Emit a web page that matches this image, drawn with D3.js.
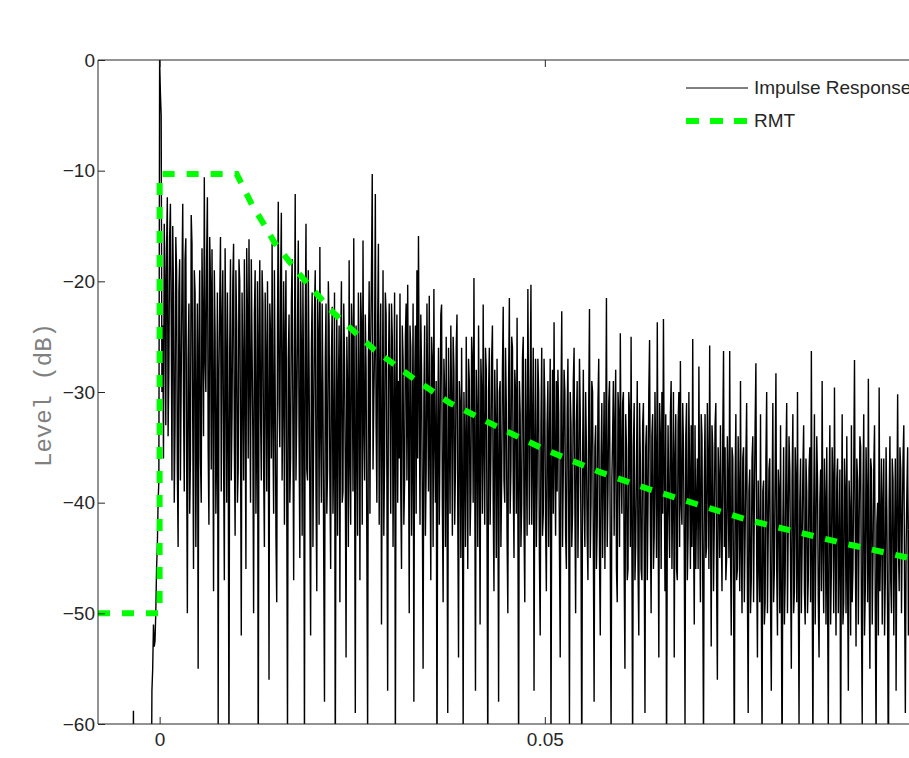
<!DOCTYPE html>
<html>
<head>
<meta charset="utf-8">
<script src="https://cdn.jsdelivr.net/npm/d3@7"></script>
<style>
  body { margin: 0; background: #fff; }
  svg { display: block; }
  .tick text { font-family: "Liberation Sans", Arial, sans-serif; font-size: 19px; fill: #262626; }
</style>
</head>
<body>
<div id="chart"></div>
<script>
var irStart = -0.008;
var irStep = 0.0002;
var irLevels = [
  -75, -75, -75, -75, -75, -75, -75, -75, -75, -75,
  -75, -75, -75, -75, -75, -75, -75, -75, -75, -75,
  -75, -75, -75, -58.8, -75, -75, -75, -75, -75, -75,
  -75, -75, -75, -75, -75, -57, -51, -52.5, -46, -40,
  0, -5, -24, -14.8, -33, -12.4, -28, -13.0, -38, -21,
  -33, -19, -44, -18, -29, -13.0, -39, -16.1, -50, -22,
  -36, -16.6, -46, -21, -31, -55, -19, -40, -24, -10.6,
  -30, -12.4, -42, -20, -17.1, -48, -25, -35, -60, -22,
  -39, -19, -47, -27, -21, -64, -18, -32, -16.6, -43,
  -24, -37, -20, -52, -28, -18, -46, -23, -16.2, -40,
  -26, -50, -19, -33, -66, -18.1, -38, -22, -44, -27,
  -20, -56, -25, -16.6, -41, -30, -49, -12.8, -35, -13.8,
  -30, -42, -19, -61, -23, -36, -18, -47, -12.1, -32,
  -16.3, -45, -26, -20, -62, -14.8, -38, -28, -52, -21,
  -33, -19.0, -48, -25, -16.9, -40, -30, -58, -22, -37,
  -24, -46, -22.3, -35, -65, -23, -30, -49, -20, -39,
  -27, -54, -30, -18.1, -42, -25, -16.1, -59, -32, -21,
  -47, -24, -16.3, -38, -28, -61, -20, -26, -10.3, -31,
  -12.1, -40, -16.6, -29, -51, -19, -36, -23, -57, -22,
  -41, -25, -32, -63, -23, -29, -21.1, -46, -27, -38,
  -22, -20.3, -50, -26, -35, -58, -24, -19.0, -15.9, -42,
  -28, -55, -24, -37, -31, -21.3, -47, -27, -20.7, -40,
  -65, -26, -34, -22.1, -49, -30, -25, -59, -32, -24,
  -43, -28, -37, -23, -54, -31, -26, -61, -35, -25,
  -46, -29, -39, -27, -19.7, -57, -32, -24, -51, -30,
  -22.1, -42, -28, -64, -26, -36, -24, -48, -33, -27,
  -58, -29, -38, -22.3, -40, -31, -50, -21.5, -37, -26,
  -45, -30, -23.3, -63, -32, -40, -25, -49, -35, -20.7,
  -42, -20.3, -34, -57, -27, -38, -30, -52, -26, -41,
  -31, -48, -29, -35, -62, -28, -23.7, -43, -39, -32,
  -54, -22.7, -37, -30, -46, -27, -60, -33, -41, -26,
  -50, -29, -38, -32, -65, -28, -44, -35, -47, -22.5,
  -40, -30, -58, -33, -42, -27, -52, -31, -37, -46,
  -21.5, -39, -29, -61, -34, -43, -28, -49, -32, -24.7,
  -41, -30, -55, -35, -46, -32, -25.0, -63, -31, -44,
  -29, -52, -36, -47, -31, -59, -33, -40, -25.3, -50,
  -32, -43, -37, -23.7, -54, -34, -30, -23.4, -48, -64,
  -33, -45, -29, -39, -54, -32, -47, -30, -27.2, -42,
  -35, -60, -31, -43, -38, -33, -25.2, -51, -46, -36,
  -27.7, -49, -34, -62, -32, -44, -37, -25.8, -53, -35,
  -42, -31, -56, -38, -33, -48, -26.3, -35, -45, -39,
  -26.3, -52, -36, -64, -32, -46, -40, -29, -50, -35,
  -43, -31, -59, -37, -47, -34, -40, -27.4, -54, -45,
  -32, -62, -38, -49, -30, -43, -36, -57, -31, -46,
  -28.3, -52, -39, -33, -65, -35, -47, -31, -42, -37,
  -55, -32, -48, -38, -30, -60, -36, -44, -33, -51,
  -39, -47, -35, -26.3, -63, -32, -43, -38, -54, -37,
  -29.0, -50, -40, -35, -61, -33, -46, -38, -29.6, -52,
  -36, -44, -64, -32, -49, -39, -34, -57, -41, -33,
  -46, -27.1, -53, -38, -42, -35, -60, -32, -48, -40,
  -28.8, -55, -37, -45, -33, -62, -40, -29.6, -43, -51,
  -36, -47, -41, -66, -34, -50, -38, -44, -57, -30.2,
  -48, -37, -42, -33, -59, -39, -52, -35, -46, -40
];

// in-between samples (half a step after each value above)
var irLevelsMid = [
  -75, -75, -75, -75, -75, -75, -75, -75, -75, -75,
  -75, -75, -75, -75, -75, -75, -75, -75, -75, -75,
  -75, -75, -75, -75, -75, -75, -75, -75, -75, -75,
  -75, -75, -75, -75, -70, -55, -53, -50, -44, -38,
  -3, -30, -36, -20, -17, -34, -16, -23, -15, -40,
  -16, -37, -21, -38, -20, -31, -18, -35, -27, -41,
  -14, -33, -19, -44, -22, -26, -36, -17, -34, -27,
  -18, -35, -16, -37, -30, -19, -41, -21, -28, -16,
  -24, -36, -17, -40, -33, -26, -38, -20, -35, -19,
  -40, -18, -34, -21, -38, -30, -17, -36, -29, -18,
  -34, -23, -41, -20, -25, -32, -19, -37, -21, -39,
  -31, -22, -36, -33, -19, -43, -24, -31, -20, -38,
  -20, -25, -39, -27, -40, -22, -33, -26, -38, -24,
  -34, -20, -43, -31, -24, -37, -19, -40, -26, -44,
  -23, -39, -21, -42, -33, -22, -45, -27, -41, -20,
  -38, -27, -41, -21, -34, -43, -24, -26, -40, -22,
  -37, -25, -44, -36, -22, -39, -35, -24, -43, -29,
  -21, -42, -33, -23, -44, -27, -41, -19, -37, -26,
  -33, -24, -42, -22, -34, -43, -21, -38, -28, -30,
  -22, -44, -21, -30, -40, -36, -39, -24, -42, -25,
  -38, -33, -24, -43, -22, -30, -41, -36, -30, -23,
  -40, -31, -43, -22, -39, -36, -25, -44, -34, -29,
  -33, -42, -23, -40, -27, -44, -38, -26, -41, -31,
  -25, -42, -26, -41, -29, -45, -38, -30, -44, -36,
  -27, -43, -25, -40, -36, -28, -44, -36, -27, -41,
  -35, -26, -43, -30, -42, -27, -40, -28, -45, -36,
  -30, -44, -28, -38, -26, -43, -29, -41, -25, -38,
  -28, -41, -40, -29, -44, -27, -42, -27, -43, -32,
  -30, -42, -26, -35, -44, -27, -45, -33, -43, -27,
  -42, -33, -44, -27, -38, -41, -36, -29, -28, -44,
  -31, -44, -28, -43, -32, -41, -30, -44, -29, -40,
  -33, -45, -27, -44, -36, -40, -30, -43, -31, -45,
  -29, -44, -35, -46, -31, -45, -36, -45, -30, -35,
  -44, -31, -45, -38, -29, -33, -46, -30, -44, -36,
  -31, -46, -32, -47, -30, -44, -43, -35, -47, -37,
  -46, -31, -46, -33, -44, -35, -47, -30, -42, -34,
  -46, -30, -45, -40, -31, -46, -41, -37, -32, -42,
  -41, -32, -46, -30, -36, -46, -33, -44, -40, -31,
  -44, -34, -47, -30, -46, -44, -42, -33, -40, -46,
  -41, -32, -47, -38, -45, -31, -46, -40, -33, -48,
  -33, -47, -35, -45, -42, -34, -44, -47, -34, -45,
  -44, -35, -48, -38, -47, -34, -48, -44, -36, -49,
  -36, -48, -39, -50, -36, -49, -33, -45, -38, -49,
  -48, -39, -51, -36, -50, -37, -49, -40, -49, -37,
  -46, -37, -50, -48, -42, -51, -36, -50, -34, -46,
  -38, -50, -35, -49, -47, -40, -50, -37, -48, -36,
  -50, -37, -49, -45, -41, -51, -34, -49, -40, -48,
  -44, -36, -51, -48, -40, -51, -35, -50, -44, -38,
  -50, -37, -43, -51, -36, -50, -47, -38, -52, -49,
  -37, -44, -36, -51, -34, -50, -39, -52, -35, -49,
  -47, -36, -51, -37, -50, -42, -52, -48, -36, -40,
  -52, -35, -51, -40, -47, -36, -52, -36, -41, -44,
  -35, -50, -36, -48, -44, -35, -45, -51, -34
];

// RMT curve corner points
var rmtTime  = [-0.008, 0, 0, 0.01, 0.012, 0.0135, 0.015, 0.0182, 0.0225, 0.0279, 0.033, 0.0377, 0.044, 0.05, 0.057, 0.0636, 0.07, 0.0766, 0.083, 0.0896, 0.0973, 0.1];
var rmtLevel = [-50, -50, -10.3, -10.3, -13.1, -14.8, -16.6, -19.4, -22.8, -26.2, -28.8, -31.0, -33.2, -35.2, -37.2, -38.8, -40.2, -41.6, -42.7, -43.8, -45.0, -45.3];

var yTicks = [-60, -50, -40, -30, -20, -10, 0];
var xTicks = [0, 0.05, 0.1];
var legendNames = ["Impulse Response", "RMT"];

var width = 909, height = 758;
var plotLeft = 98, plotTop = 60, plotBottom = 724, plotRight = 930;

var svg = d3.select("#chart")
    .append("svg")
    .attr("width", width)
    .attr("height", height);

var x = d3.scaleLinear().domain([-0.008, 0.1]).range([plotLeft, plotRight]);
var y = d3.scaleLinear().domain([-60, 0]).range([plotBottom, plotTop]);

svg.append("defs").append("clipPath")
    .attr("id", "plot-clip")
  .append("rect")
    .attr("x", plotLeft).attr("y", plotTop)
    .attr("width", plotRight - plotLeft).attr("height", plotBottom - plotTop);

var plot = svg.append("g").attr("clip-path", "url(#plot-clip)");

// merge the two sample sets in time order
var irData = [];
irLevels.forEach(function(v, i) {
    irData.push({ t: irStart + i * irStep, v: v });
    if (i < irLevelsMid.length) irData.push({ t: irStart + (i + 0.5) * irStep, v: irLevelsMid[i] });
});

plot.append("path")
    .datum(irData)
    .attr("fill", "none")
    .attr("stroke", "#000")
    .attr("stroke-width", 1.4)
    .attr("d", d3.line().x(function(d) { return x(d.t); }).y(function(d) { return y(d.v); }));

var rmtData = rmtTime.map(function(t, i) { return { t: t, v: rmtLevel[i] }; });

plot.append("path")
    .datum(rmtData)
    .attr("fill", "none")
    .attr("stroke", "#00ff00")
    .attr("stroke-width", 6)
    .attr("stroke-dasharray", "12,12")
    .attr("d", d3.line().x(function(d) { return x(d.t); }).y(function(d) { return y(d.v); }));

// axes (MATLAB style: ticks pointing inward)
var axisColor = "#262626";

var yAxis = svg.append("g")
    .attr("transform", "translate(" + plotLeft + ",0)")
    .call(d3.axisLeft(y).tickValues(yTicks).tickSize(-7).tickPadding(3).tickFormat(d3.format("d")));

var xAxis = svg.append("g")
    .attr("transform", "translate(0," + plotBottom + ")")
    .call(d3.axisBottom(x).tickValues(xTicks).tickSize(-7).tickPadding(9).tickFormat(d3.format("~g")));

var xTop = svg.append("g")
    .attr("transform", "translate(0," + plotTop + ")")
    .call(d3.axisTop(x).tickValues(xTicks).tickSize(-7).tickFormat(""));

[yAxis, xAxis, xTop].forEach(function(g) {
    g.selectAll(".domain").remove();
    g.selectAll(".tick line").attr("stroke", axisColor);
});

svg.append("line").attr("x1", plotLeft).attr("x2", plotRight).attr("y1", plotTop).attr("y2", plotTop).attr("stroke", axisColor);
svg.append("line").attr("x1", plotLeft).attr("x2", plotRight).attr("y1", plotBottom).attr("y2", plotBottom).attr("stroke", axisColor);
svg.append("line").attr("x1", plotLeft).attr("x2", plotLeft).attr("y1", plotTop).attr("y2", plotBottom).attr("stroke", axisColor);

svg.append("text")
    .attr("transform", "translate(45," + ((plotTop + plotBottom) / 2 + 3) + ") rotate(-90)")
    .attr("text-anchor", "middle")
    .attr("dominant-baseline", "middle")
    .style("font-family", "'Courier New', 'Liberation Mono', monospace")
    .style("font-size", "24px")
    .style("fill", "#808080")
    .text("Level (dB)");

// legend
var legend = svg.append("g");
legend.append("line")
    .attr("x1", 686).attr("x2", 748).attr("y1", 88).attr("y2", 88)
    .attr("stroke", "#000").attr("stroke-width", 1);
legend.append("line")
    .attr("x1", 686).attr("x2", 748).attr("y1", 121).attr("y2", 121)
    .attr("stroke", "#00ff00").attr("stroke-width", 6).attr("stroke-dasharray", "13,11");
legend.selectAll("text")
    .data(legendNames)
    .enter()
    .append("text")
    .attr("x", 754)
    .attr("y", function(d, i) { return 89 + i * 33; })
    .attr("dominant-baseline", "middle")
    .style("font-family", "'Liberation Sans', Arial, sans-serif")
    .style("font-size", "19px")
    .style("fill", "#262626")
    .text(function(d) { return d; });
</script>
</body>
</html>
